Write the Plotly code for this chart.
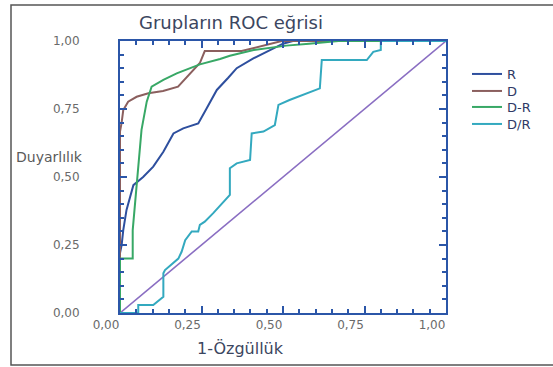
import plotly.graph_objects as go

# ---- data ----
tick_vals = [0, 0.25, 0.5, 0.75, 1.0]
tick_text = ["0,00", "0,25", "0,50", "0,75", "1,00"]

R_x = [0, 0, 0.005, 0.01, 0.02, 0.031, 0.041, 0.071, 0.102, 0.133, 0.164, 0.194, 0.24, 0.266, 0.297, 0.332, 0.358, 0.409, 0.46, 0.5, 0.53, 1.0]
R_y = [0, 0.22, 0.25, 0.305, 0.379, 0.428, 0.47, 0.50, 0.538, 0.593, 0.66, 0.679, 0.697, 0.753, 0.82, 0.865, 0.9, 0.936, 0.967, 0.99, 1.0, 1.0]

D_x = [0, 0, 0.005, 0.01, 0.025, 0.051, 0.087, 0.132, 0.178, 0.215, 0.245, 0.26, 0.373, 0.496, 1.0]
D_y = [0, 0.667, 0.70, 0.746, 0.777, 0.795, 0.808, 0.816, 0.832, 0.882, 0.919, 0.963, 0.963, 1.0, 1.0]

DR_x = [0, 0, 0.039, 0.039, 0.066, 0.082, 0.097, 0.133, 0.174, 0.215, 0.245, 0.307, 0.337, 0.41, 0.51, 0.58, 0.67, 1.0]
DR_y = [0, 0.2, 0.2, 0.305, 0.673, 0.777, 0.832, 0.857, 0.881, 0.9, 0.914, 0.934, 0.946, 0.967, 0.983, 0.99, 1.0, 1.0]

DdR_x = [0, 0.056, 0.056, 0.102, 0.133, 0.133, 0.138, 0.164, 0.179, 0.189, 0.2, 0.22, 0.24, 0.245, 0.26, 0.286, 0.337, 0.337, 0.358, 0.399, 0.404, 0.44, 0.475, 0.486, 0.52, 0.613, 0.619, 0.757, 0.777, 0.80, 0.80, 1.0]
DdR_y = [0, 0, 0.029, 0.029, 0.06, 0.146, 0.158, 0.183, 0.2, 0.225, 0.268, 0.3, 0.3, 0.324, 0.336, 0.367, 0.434, 0.532, 0.55, 0.5625, 0.66, 0.667, 0.691, 0.765, 0.783, 0.826, 0.93, 0.93, 0.96, 0.967, 1.0, 1.0]

diag_x = [0, 1]
diag_y = [0, 1]

series_names = ["R", "D", "D-R", "D/R"]
series_x = [R_x, D_x, DR_x, DdR_x]
series_y = [R_y, D_y, DR_y, DdR_y]
series_colors = ["#2e4f9e", "#8b5f5e", "#38a866", "#33a9bf"]

FONT = "DejaVu Sans, Verdana, sans-serif"

W, H = 553, 367
L, R_, T, B = 120, 107, 41, 54
pw, ph = W - L - R_, H - T - B


def px(x):
    return (x - L) / pw


def py(y):
    return (H - B - y) / ph


fig = go.Figure()
fig.add_trace(go.Scatter(x=diag_x, y=diag_y, mode="lines",
                         line=dict(color="#8a6ec2", width=1.6), showlegend=False))

legend_centers = [74, 91, 107, 124]
legend_layouts = {}
for i, (name, xs, ys, col) in enumerate(zip(series_names, series_x, series_y, series_colors)):
    key = "legend" if i == 0 else f"legend{i + 1}"
    fig.add_trace(go.Scatter(x=xs, y=ys, mode="lines", name=name, legend=key,
                             line=dict(color=col, width=2)))
    legend_layouts[key] = dict(
        x=px(467), y=py(legend_centers[i]), xanchor="left", yanchor="middle",
        font=dict(family=FONT, size=13, color="#2f3a66"),
        bgcolor="rgba(0,0,0,0)", borderwidth=0,
    )

axis_common = dict(
    range=[0, 1], showgrid=False, zeroline=False,
    showline=True, linecolor="#2b56a8", linewidth=2, mirror="ticks",
    ticks="inside", ticklen=7, tickwidth=2, tickcolor="#2b56a8",
    tickvals=tick_vals, ticktext=tick_text,
    tickfont=dict(family=FONT, size=12, color="#6a6a6a"),
    minor=dict(ticks="inside", ticklen=4, tickwidth=2, tickcolor="#2b56a8", dtick=0.05),
)
fig.update_xaxes(**axis_common, ticklabelshift=-14)
fig.update_yaxes(**axis_common, ticklabelstandoff=36)

fig.update_layout(
    width=W, height=H,
    margin=dict(l=L, r=R_, t=T, b=B, pad=0),
    paper_bgcolor="white", plot_bgcolor="white",
    showlegend=True,
    **legend_layouts,
    shapes=[dict(type="rect", xref="paper", yref="paper",
                 x0=px(11), x1=px(560), y0=py(365), y1=py(5),
                 line=dict(color="#555555", width=1.5), layer="below")],
    annotations=[
        dict(text="Grupların ROC eğrisi", xref="paper", yref="paper",
             x=px(231), y=py(22), showarrow=False, xanchor="center", yanchor="middle",
             font=dict(family=FONT, size=18, color="#3b4660")),
        dict(text="Duyarlılık", xref="paper", yref="paper",
             x=px(49), y=py(157), showarrow=False, xanchor="center", yanchor="middle",
             font=dict(family=FONT, size=14, color="#5a5a5a")),
        dict(text="1-Özgüllük", xref="paper", yref="paper",
             x=px(240), y=py(348), showarrow=False, xanchor="center", yanchor="middle",
             font=dict(family=FONT, size=16, color="#3b4660")),
    ],
)

fig.write_html("out.html", config={"displayModeBar": False},
               post_script="document.body.style.margin='0';document.body.style.overflow='hidden';")
